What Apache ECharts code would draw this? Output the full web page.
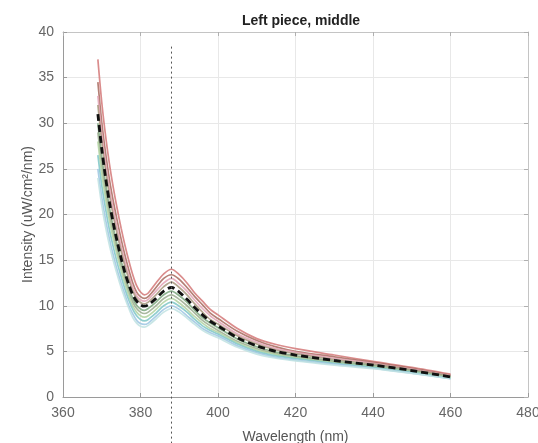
<!DOCTYPE html>
<html>
<head>
<meta charset="utf-8">
<script src="https://cdn.jsdelivr.net/npm/echarts@6/dist/echarts.min.js"></script>
<style>
html,body{margin:0;padding:0;background:#ffffff;}
#chart{width:538px;height:443px;}
</style>
</head>
<body>
<div id="chart"></div>
<script>
// Wavelength sample points (nm)
var wavelengths = [369,370,371,372,373,374,375,376,377,378,379,380,381,382,384,386,388,390,392,394,396,398,400,405,410,415,420,430,440,450,460];

// Individual spectra (uW/cm^2/nm), top to bottom
var spec1  = [37,32.3,28.6,25.5,22.9,20.6,18.5,16.6,14.9,13.4,12.2,11.5,11.2,11.4,12.5,13.5,14.0,13.4,12.5,11.4,10.5,9.6,9.0,7.5,6.4,5.75,5.3,4.6,3.9,3.25,2.5];
var spec2  = [34.5,30.1,26.7,23.8,21.4,19.3,17.3,15.5,13.9,12.5,11.5,11.0,10.8,11.0,12.0,13.0,13.4,12.9,12.0,11.0,10.1,9.2,8.6,7.2,6.2,5.5,5.0,4.4,3.8,3.15,2.4];
var spec3  = [33,28.9,25.6,22.8,20.5,18.4,16.5,14.8,13.3,12.0,11.1,10.65,10.5,10.7,11.6,12.5,13.0,12.4,11.6,10.6,9.7,8.9,8.3,6.9,6.0,5.3,4.9,4.25,3.7,3.05,2.35];
var spec4  = [32,28.0,24.8,22.1,19.8,17.8,16.0,14.3,12.9,11.6,10.8,10.35,10.2,10.4,11.2,12.1,12.6,12.0,11.2,10.2,9.3,8.5,8.0,6.7,5.8,5.15,4.75,4.1,3.6,2.98,2.3];
var spec5  = [30,26.3,23.3,20.7,18.5,16.6,14.9,13.3,11.9,10.8,10.05,9.65,9.5,9.7,10.4,11.2,11.6,11.1,10.4,9.5,8.7,8.1,7.6,6.35,5.5,4.9,4.5,3.92,3.45,2.85,2.2];
var spec6  = [29,25.4,22.5,20.0,17.9,16.0,14.4,12.9,11.5,10.4,9.7,9.3,9.15,9.3,10.0,10.8,11.2,10.7,10.0,9.2,8.4,7.8,7.3,6.1,5.3,4.75,4.4,3.85,3.4,2.8,2.15];
var spec7  = [28,24.5,21.7,19.3,17.3,15.5,13.9,12.4,11.1,10.0,9.3,8.9,8.75,8.9,9.6,10.4,10.8,10.3,9.6,8.8,8.1,7.5,7.1,5.95,5.15,4.65,4.3,3.78,3.3,2.75,2.1];
var spec8  = [26.5,23.2,20.6,18.3,16.4,14.7,13.2,11.8,10.6,9.6,8.9,8.5,8.35,8.5,9.2,10.0,10.4,9.95,9.3,8.5,7.8,7.3,6.9,5.8,5.0,4.5,4.2,3.7,3.25,2.7,2.05];
var spec9  = [25,21.9,19.4,17.3,15.5,13.9,12.5,11.2,10.0,9.1,8.4,8.05,7.95,8.1,8.85,9.6,10.0,9.6,8.9,8.2,7.5,7.05,6.7,5.6,4.85,4.35,4.05,3.6,3.15,2.62,2.0];
var spec10 = [24,21.0,18.6,16.6,14.9,13.4,12.0,10.8,9.7,8.7,8.1,7.75,7.65,7.85,8.55,9.3,9.7,9.3,8.65,7.95,7.3,6.85,6.5,5.45,4.7,4.25,3.95,3.5,3.1,2.58,2.0];
// Mean spectrum (black dashed)
var meanSpec = [31,27.2,24.0,21.3,19.0,17.0,15.2,13.6,12.3,11.2,10.5,10.1,9.95,10.1,10.8,11.6,12.0,11.5,10.7,9.8,9.0,8.3,7.8,6.5,5.6,5.0,4.6,4.0,3.5,2.9,2.2];

// Vertical dotted marker line
var markerWavelength = [388, 388];
var markerIntensity = [38.4, -12];

// Axis ticks
var xTicks = [360,380,400,420,440,460,480];
var yTicks = [0,5,10,15,20,25,30,35,40];

var specList = [spec1,spec2,spec3,spec4,spec5,spec6,spec7,spec8,spec9,spec10];
var colors = ['#d47878','#a86a5e','#e2a2b4','#a8977c','#7aa67c','#9aab8e','#b2d2a0','#7cc6c6','#9cc6e2','#bfe2e2'];

function pairs(xs, ys){ return xs.map(function(x,i){ return [x, ys[i]]; }); }

var series = [];
specList.forEach(function(s, i){
  series.push({
    type:'line', data: pairs(wavelengths, s), smooth:0.3, showSymbol:false,
    lineStyle:{color:colors[i], width:1.7, opacity:0.85}, z:2, silent:true
  });
});
series.push({
  type:'line', data: pairs(wavelengths, meanSpec), smooth:0.3, showSymbol:false,
  lineStyle:{color:'#111111', width:2.8, type:[7,4]}, z:5, silent:true
});
series.push({
  type:'line', data: pairs(markerWavelength, markerIntensity), showSymbol:false, clip:false,
  lineStyle:{color:'#555555', width:1, type:[2,3]}, z:6, silent:true
});

var fontFam = '"Liberation Sans", Arial, Helvetica, sans-serif';
var chart = echarts.init(document.getElementById('chart'), null, {renderer:'canvas'});
chart.setOption({
  animation:false,
  backgroundColor:'#ffffff',
  title:{
    text:'Left piece, middle', left:296, top:9, textAlign:'center',
    textStyle:{fontFamily:fontFam, fontSize:14, fontWeight:'bold', color:'#222'}
  },
  grid:{left:63, right:10, top:32, bottom:46, outerBoundsMode:'none', containLabel:false},
  xAxis:[{
    type:'value', min:xTicks[0], max:xTicks[xTicks.length-1], interval:20,
    name:'Wavelength (nm)', nameLocation:'middle', nameGap:33, nameMoveOverlap:false,
    nameTextStyle:{fontFamily:fontFam, fontSize:14, color:'#555'},
    axisLine:{show:true, lineStyle:{color:'#9a9a9a', width:1}},
    axisTick:{show:true, inside:true, length:4, lineStyle:{color:'#9a9a9a'}},
    axisLabel:{fontFamily:fontFam, fontSize:14, color:'#666', margin:9},
    splitLine:{show:true, lineStyle:{color:'#e8e8e8', width:1}}
  },{
    type:'value', position:'top', min:xTicks[0], max:xTicks[xTicks.length-1], interval:20,
    axisLine:{show:true, onZero:false, lineStyle:{color:'#c4c4c4'}},
    axisTick:{show:true, inside:true, length:4, lineStyle:{color:'#b0b0b0'}},
    axisLabel:{show:false}, splitLine:{show:false}
  }],
  yAxis:[{
    type:'value', min:yTicks[0], max:yTicks[yTicks.length-1], interval:5,
    name:'Intensity (uW/cm\u00b2/nm)', nameLocation:'middle', nameGap:28, nameMoveOverlap:false,
    nameTextStyle:{fontFamily:fontFam, fontSize:14, color:'#555'},
    axisLine:{show:true, lineStyle:{color:'#9a9a9a', width:1}},
    axisTick:{show:true, inside:true, length:4, lineStyle:{color:'#9a9a9a'}},
    axisLabel:{fontFamily:fontFam, fontSize:14, color:'#666', margin:9},
    splitLine:{show:true, lineStyle:{color:'#e8e8e8', width:1}}
  },{
    type:'value', position:'right', min:yTicks[0], max:yTicks[yTicks.length-1], interval:5,
    axisLine:{show:true, onZero:false, lineStyle:{color:'#c4c4c4'}},
    axisTick:{show:true, inside:true, length:4, lineStyle:{color:'#b0b0b0'}},
    axisLabel:{show:false}, splitLine:{show:false}
  }],
  series: series
});
</script>
</body>
</html>
